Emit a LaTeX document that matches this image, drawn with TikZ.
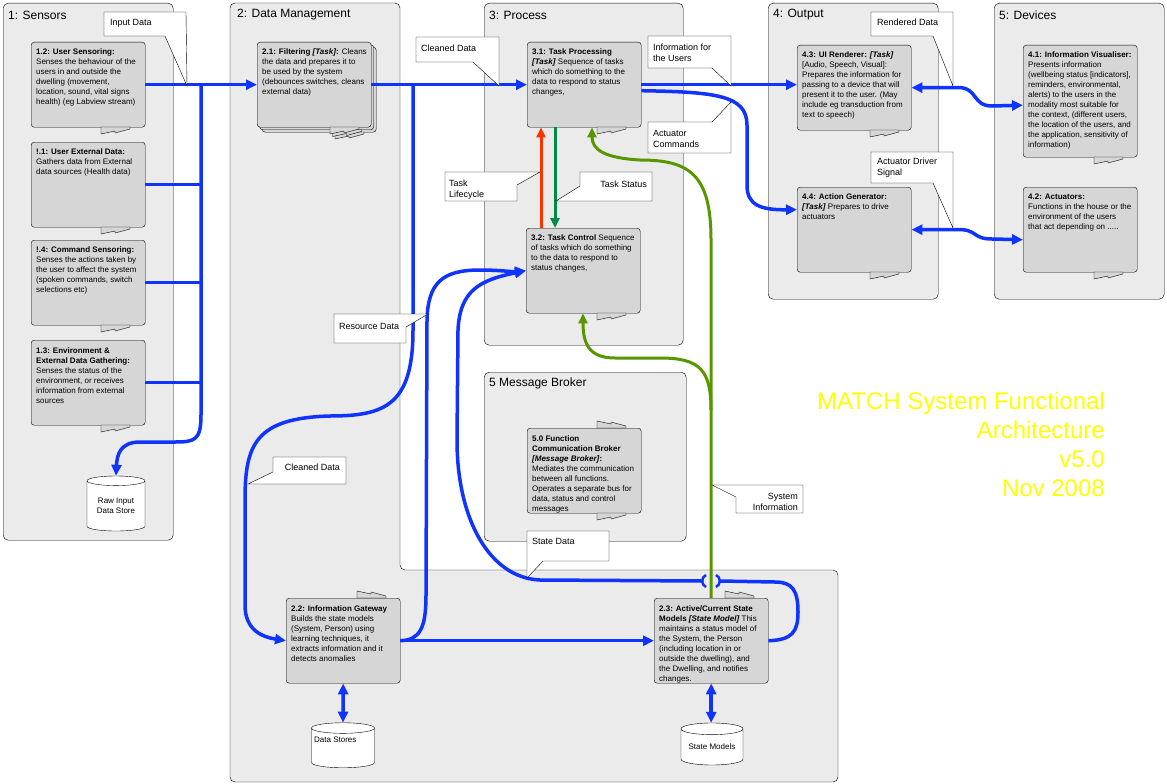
\documentclass[tikz,border=0pt]{standalone}
\usepackage{fontspec}
\setmainfont{Liberation Sans}
\usetikzlibrary{arrows.meta,shapes.geometric,shadows}

\definecolor{groupgray}{RGB}{235,235,235}
\definecolor{taskgray}{RGB}{214,214,214}
\definecolor{flowblue}{RGB}{16,52,255}
\definecolor{sysgreen}{RGB}{88,150,0}
\definecolor{lifered}{RGB}{255,51,0}
\definecolor{statusgreen}{RGB}{0,140,72}
\definecolor{titleyellow}{RGB}{255,255,0}

\newcommand{\tabnotch}[3]{%
	\draw[notch] (#1,#2) -- ++(0,7*#3) -- ++(14,-3*#3) -- ++(0,2*#3) -- ++(15,-4*#3) -- ++(0,-2*#3) -- cycle;}

\tikzset{
	groupbox/.style={draw, fill=groupgray, rounded corners=5pt, anchor=north west, inner sep=0pt},
	grouptitle/.style={anchor=west, inner sep=0pt, font=\fontsize{12}{14}\selectfont},
	task/.style={draw, fill=taskgray, rounded corners=3pt, anchor=north west, inner sep=0pt,
		minimum width=114pt, minimum height=85pt},
	tasktext/.style={anchor=north west, align=left, inner xsep=5pt, inner ysep=7pt,
		font=\fontsize{8}{10}\selectfont},
	notch/.style={draw, fill=taskgray, line join=round},
	store/.style={cylinder, shape border rotate=90, draw, fill=white, aspect=0.25, inner sep=0pt,
		align=center, font=\fontsize{8}{10}\selectfont},
	calloutbox/.style={draw, fill=white},
	calltext/.style={anchor=west, align=left, inner sep=0pt, font=\fontsize{9}{11}\selectfont},
	flow/.style={draw=flowblue, line width=3.5pt},
	hop/.style={draw=flowblue, line width=2.5pt},
	arrowend/.style={-{Triangle[length=11pt,width=10pt]}},
	twotip/.style={{Triangle[length=11pt,width=10pt]}-{Triangle[length=11pt,width=10pt]}},
	sysline/.style={draw=sysgreen, line width=3pt, -{Triangle[length=10pt,width=9pt]}},
	lifeline/.style={draw=lifered, line width=3pt, -{Triangle[length=10pt,width=9pt]}},
	statusline/.style={draw=statusgreen, line width=3pt, -{Triangle[length=10pt,width=9pt]}}
}

\begin{document}
\begin{tikzpicture}[x=1pt,y=-1pt]
	\useasboundingbox[fill=white] (0,0) rectangle (1167,784);
	%
	\node[groupbox, minimum width=170pt, minimum height=537pt] (sensors) at (3,3) {};
	\draw[groupbox] (230,3) -- (400,3) -- (400,570) -- (838,570) -- (838,782) -- (230,782) -- cycle;
	\node[groupbox, minimum width=199pt, minimum height=342pt] (process) at (484,3) {};
	\node[groupbox, minimum width=202pt, minimum height=169pt] (broker) at (484,372) {};
	\node[groupbox, minimum width=170pt, minimum height=296pt] (output) at (768,3) {};
	\node[groupbox, minimum width=170pt, minimum height=296pt] (devices) at (994,3) {};
	\node[grouptitle] (sensors-t) at (8,15) {1: Sensors};
	\node[grouptitle] (datamgmt-t) at (237,15) {2: Data Management};
	\node[grouptitle] (process-t) at (489,15) {3: Process};
	\node[grouptitle] (broker-t) at (489,383) {5 Message Broker};
	\node[grouptitle] (output-t) at (773,15) {4: Output};
	\node[grouptitle] (devices-t) at (999,15) {5: Devices};
	%
	\node[task] (u12) at (31,42) {};
	\node[tasktext] (u12-t) at (u12.north west) {\textbf{1.2: User Sensoring:}\\Senses the behaviour of the\\users in and outside the\\dwelling (movement,\\location, sound, vital signs\\health) (eg Labview stream)};
	\tabnotch{101}{127}{1}
	\node[task] (u11) at (31,142) {};
	\node[tasktext] (u11-t) at (u11.north west) {\textbf{!.1: User External Data:}\\Gathers data from External\\data sources (Health data)};
	\tabnotch{101}{227}{1}
	\node[task] (u14) at (31,240) {};
	\node[tasktext] (u14-t) at (u14.north west) {\textbf{!.4: Command Sensoring:}\\Senses the actions taken by\\the user to affect the system\\(spoken commands, switch\\selections etc)};
	\tabnotch{101}{325}{1}
	\node[task] (u13) at (31,340) {};
	\node[tasktext] (u13-t) at (u13.north west) {\textbf{1.3: Environment \&}\\\textbf{External Data Gathering:}\\Senses the status of the\\environment, or receives\\information from external\\sources};
	\tabnotch{101}{425}{1}
	\node[store, minimum width=58pt, minimum height=55pt] (raw) at (116,506) {Raw Input\\Data Store};
	%
	\node[task, double copy shadow={shadow xshift=2.5pt, shadow yshift=-2.5pt}] (filt) at (257,42) {};
	\node[tasktext] (filt-t) at (filt.north west) {\textbf{2.1: Filtering \textit{[Task]}:} Cleans\\the data and prepares it to\\be used by the system\\(debounces switches, cleans\\external data)};
	\tabnotch{335}{132}{1}
	\tabnotch{332.5}{129.5}{1}
	\tabnotch{330}{127}{1}
	%
	\node[task] (p31) at (527,42) {};
	\node[tasktext] (p31-t) at (p31.north west) {\textbf{3.1: Task Processing}\\\textbf{\textit{[Task]}} Sequence of tasks\\which do something to the\\data to respond to status\\changes,};
	\tabnotch{597}{127}{1}
	\node[task] (ctl) at (526,228) {};
	\node[tasktext] (ctl-t) at (ctl.north west) {\textbf{3.2: Task Control} Sequence\\of tasks which do something\\to the data to respond to\\status changes,};
	\tabnotch{597}{313}{1}
	%
	\node[task] (mb) at (527,428) {};
	\node[tasktext] (mb-t) at (mb.north west) {\textbf{5.0 Function}\\\textbf{Communication Broker}\\\textbf{\textit{[Message Broker]}:}\\Mediates the communication\\between all functions.\\Operates a separate bus for\\data, status and control\\messages};
	\tabnotch{597}{428}{-1}
	\tabnotch{597}{513}{1}
	%
	\node[task] (ui) at (797,45) {};
	\node[tasktext] (ui-t) at (ui.north west) {\textbf{4.3: UI Renderer: \textit{[Task]}}\\{[Audio, Speech, Visual]:}\\Prepares the information for\\passing to a device that will\\present it to the user. (May\\include eg transduction from\\text to speech)};
	\tabnotch{870}{130}{1}
	\node[task] (act) at (797,187) {};
	\node[tasktext] (act-t) at (act.north west) {\textbf{4.4: Action Generator:}\\\textbf{\textit{[Task]}} Prepares to drive\\actuators};
	\tabnotch{870}{272}{1}
	%
	\node[task, minimum height=112pt] (vis) at (1023,45) {};
	\node[tasktext] (vis-t) at (vis.north west) {\textbf{4.1: Information Visualiser:}\\Presents information\\(wellbeing status [indicators],\\reminders, environmental,\\alerts) to the users in the\\modality most suitable for\\the context, (different users,\\the location of the users, and\\the application, sensitivity of\\information)};
	\tabnotch{1094}{157}{1}
	\node[task] (actu) at (1023,187) {};
	\node[tasktext] (actu-t) at (actu.north west) {\textbf{4.2: Actuators:}\\Functions in the house or the\\environment of the users\\that act depending on .....};
	\tabnotch{1094}{272}{1}
	%
	\node[task] (gw) at (286,598) {};
	\node[tasktext] (gw-t) at (gw.north west) {\textbf{2.2: Information Gateway}\\Builds the state models\\(System, Person) using\\learning techniques, it\\extracts information and it\\detects anomalies};
	\tabnotch{357}{598}{-1}
	\node[task] (sm) at (654,598) {};
	\node[tasktext] (sm-t) at (sm.north west) {\textbf{2.3: Active/Current State}\\\textbf{Models \textit{[State Model]}} This\\maintains a status model of\\the System, the Person\\(including location in or\\outside the dwelling), and\\the Dwelling, and notifies\\changes.};
	\tabnotch{725}{598}{-1}
	\node[store, minimum width=63pt, minimum height=45pt] (ds) at (343,748) {\phantom{Data Stores}};
	\node[anchor=west, inner sep=0pt, font=\fontsize{8}{10}\selectfont] (ds-t) at (314,740) {Data Stores};
	\node[store, minimum width=62pt, minimum height=42pt] (smd) at (712,747) {State Models};
	%
	\coordinate (inbus) at (201,84.5);
	\coordinate (cleanbus) at (413,84.5);
	\coordinate (hopL) at (702,581);
	\coordinate (hopR) at (720,581);
	\coordinate (sysjoin) at (711,410);
	%
	\draw[flow,arrowend] (u12.east) -- (filt.west);
	\draw[flow] (u11.east) -- (u11.east -| inbus);
	\draw[flow] (u14.east) -- (u14.east -| inbus);
	\draw[flow] (u13.east) -- (u13.east -| inbus);
	\draw[flow,arrowend] (inbus) -- (201,415) .. controls (201,440) and (195,442) .. (175,442)
		-- (140,442) .. controls (120,442) and (117,455) .. (raw.north);
	\draw[flow,arrowend] (filt.east) -- (p31.west);
	\draw[flow,arrowend] (cleanbus) -- (413,330) .. controls (413,405) and (385,416) .. (330,416)
		.. controls (255,418) and (245,445) .. (245,500) -- (245,605)
		.. controls (245,630) and (262,637) .. (gw.west);
	\draw[flow,arrowend] (gw.east) -- (sm.west);
	\draw[flow,arrowend] (gw.east) .. controls (420,640) and (426,628) .. (426,595) -- (427,320)
		.. controls (428,283) and (442,270) .. (480,270) .. controls (500,270) and (512,272) .. (ctl.west);
	\draw[flow] (sm.east) .. controls (792,640) and (798,632) .. (798,612)
		.. controls (798,590) and (792,582) .. (775,582) -- (hopR);
	\draw[flow,arrowend] (hopL) -- (540,580) .. controls (490,578) and (457,520) .. (457,440)
		-- (458,330) .. controls (460,290) and (480,280) .. (ctl.west);
	\draw[hop] ([xshift=4pt,yshift=6pt]hopL) .. controls ([xshift=-1pt,yshift=4pt]hopL)
		and ([xshift=-1pt,yshift=-4pt]hopL) .. ([xshift=4pt,yshift=-6pt]hopL);
	\draw[hop] ([xshift=-4pt,yshift=6pt]hopR) .. controls ([xshift=1pt,yshift=4pt]hopR)
		and ([xshift=1pt,yshift=-4pt]hopR) .. ([xshift=-4pt,yshift=-6pt]hopR);
	\draw[flow,arrowend] (p31.east) -- (p31.east -| ui.west);
	\draw[flow,arrowend] ([yshift=-6pt]p31.east) .. controls (715,92) and (747,95) .. (747,125)
		-- (747,185) .. controls (747,205) and (760,210) .. ([yshift=20pt]act.west);
	\draw[flow,twotip] (ui.east) -- (958,87.5) .. controls (978,87.5) and (972,106) .. (992,106)
		-- ([yshift=-4pt]vis.west);
	\draw[flow,twotip] (act.east) -- (958,229.5) .. controls (978,229.5) and (972,239) .. (992,239)
		-- ([yshift=-10pt]actu.west);
	\draw[flow,twotip] (gw.south) -- (ds.north);
	\draw[flow,twotip] (sm.south) -- (sm.south |- smd.north);
	%
	\draw[lifeline] ([xshift=15pt]ctl.north west) -- ([xshift=14pt]p31.south west);
	\draw[statusline] ([xshift=28pt]p31.south west) -- ([xshift=29pt]ctl.north west);
	\draw[sysline] (sm.north) -- (711,240) .. controls (711,175) and (690,160) .. (640,160)
		.. controls (605,158) and (592,150) .. ([xshift=65pt]p31.south west);
	\draw[sysline] (sysjoin) .. controls (711,370) and (700,358) .. (660,358) -- (615,358)
		.. controls (590,358) and (583,345) .. ([xshift=57pt]ctl.south west);
	%
	\draw[calloutbox] (104,12) -- (186,12) -- (187,86) -- (165,36) -- (104,36) -- cycle;
	\node[calltext] (input-l) at (110,23) {Input Data};
	\draw[calloutbox] (416,37) -- (499,37) -- (499,86) -- (473,62) -- (416,62) -- cycle;
	\node[calltext] (clean-l) at (421,48) {Cleaned Data};
	\draw[calloutbox] (648,36) -- (731,36) -- (731,86) -- (712,68) -- (648,68) -- cycle;
	\node[calltext] (info-l) at (653,53) {Information for\\the Users};
	\draw[calloutbox] (648,122) -- (712,122) -- (731,102) -- (731,153) -- (648,153) -- cycle;
	\node[calltext] (cmd-l) at (653,138.5) {Actuator\\Commands};
	\draw[calloutbox] (871,12) -- (953,12) -- (953,86) -- (933,36) -- (871,36) -- cycle;
	\node[calltext] (rend-l) at (877,22) {Rendered Data};
	\draw[calloutbox] (871,152) -- (953,152) -- (953,228) -- (933,183) -- (871,183) -- cycle;
	\node[calltext] (drv-l) at (877,168) {Actuator Driver\\Signal};
	\draw[calloutbox] (445,172) -- (540,172) -- (517,185) -- (517,201) -- (445,201) -- cycle;
	\node[calltext] (life-l) at (449,189.5) {Task\\Lifecycle};
	\draw[calloutbox] (580,172) -- (652,172) -- (652,201) -- (556,201) -- (580,186) -- cycle;
	\node[calltext, anchor=east] (status-l) at (647,184) {Task Status};
	\draw[calloutbox] (334,314) -- (428,314) -- (406,327) -- (406,343) -- (334,343) -- cycle;
	\node[calltext] (res-l) at (339,326) {Resource Data};
	\draw[calloutbox] (273,457) -- (346,457) -- (346,484) -- (248,484) -- (273,472) -- cycle;
	\node[calltext, anchor=east] (clean2-l) at (340,467) {Cleaned Data};
	\draw[calloutbox] (527,531) -- (609,531) -- (609,561) -- (543,561) -- (527,578) -- cycle;
	\node[calltext] (state-l) at (532,541) {State Data};
	\draw[calloutbox] (712,485) -- (803,485) -- (803,513) -- (736,513) -- (736,497) -- cycle;
	\node[calltext, anchor=east, align=right] (sys-l) at (798,501.5) {System\\Information};
	%
	\node[anchor=north east, align=right, inner sep=0pt, text=titleyellow,
		font=\fontsize{24}{29}\selectfont] (title) at (1105,392) {MATCH System Functional\\Architecture\\v5.0\\Nov 2008};
\end{tikzpicture}
\end{document}
